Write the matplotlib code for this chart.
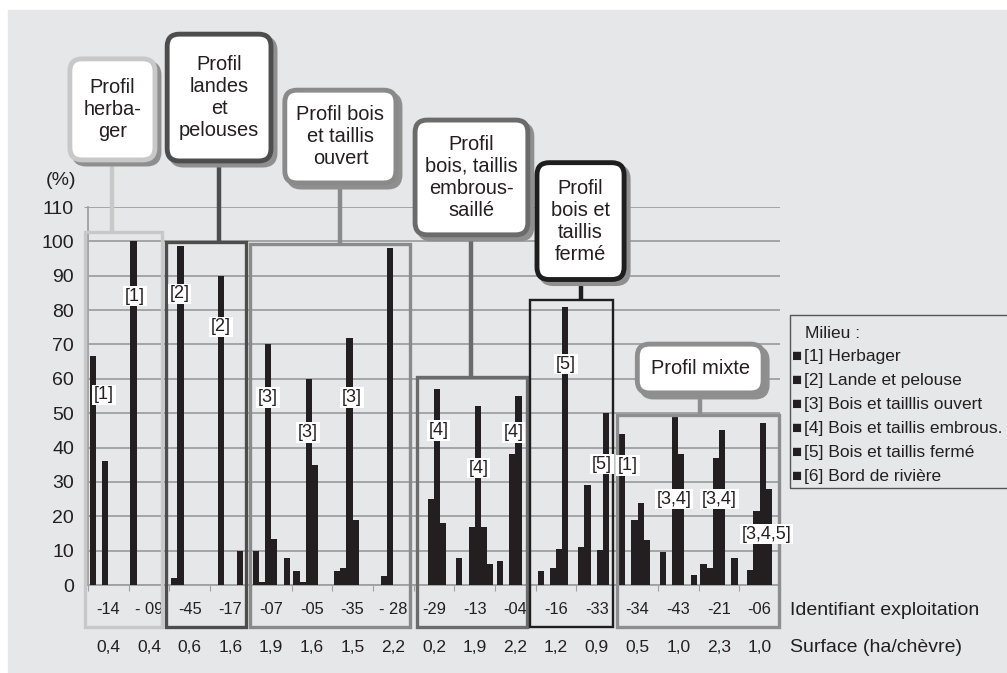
import numpy as np
import matplotlib
matplotlib.use("Agg")
import matplotlib.pyplot as plt
from matplotlib.patches import Rectangle, FancyBboxPatch

plt.rcParams['font.family'] = ['Liberation Sans', 'DejaVu Sans']
TXT = "#231f20"

# ----------------------------
# DONNEES
# ----------------------------

exploitations = ["-14", "- 09", "-45", "-17", "-07", "-05", "-35", "- 28",
                 "-29", "-13", "-04", "-16", "-33", "-34", "-43", "-21", "-06"]
surface = ["0,4", "0,4", "0,6", "1,6", "1,9", "1,6", "1,5", "2,2",
           "0,2", "1,9", "2,2", "1,2", "0,9", "0,5", "1,0", "2,3", "1,0"]

milieux = ["[1] Herbager", "[2] Lande et pelouse", "[3] Bois et tailllis ouvert",
           "[4] Bois et taillis embrous.", "[5] Bois et taillis fermé",
           "[6] Bord de rivière"]

# % de chaque milieu par exploitation
m1 = [66.6, 100, 2, 0, 10, 4, 4, 0, 0, 8, 7, 4, 11, 44, 9.5, 6, 0]
m2 = [0, 0, 98.6, 90, 1, 1, 5, 2.5, 0, 0, 0, 0, 29, 0, 0, 5, 4.5]
m3 = [36, 0, 0, 0, 70, 60, 72, 98, 25, 17, 38, 5, 0, 19, 49, 37, 21.5]
m4 = [0, 0, 0, 0, 13.5, 35, 19, 0, 57, 52, 55, 10.5, 10.3, 24, 38, 45, 47]
m5 = [0, 0, 0, 10, 0, 0, 0, 0, 18, 17, 0, 81, 50, 13, 0, 0, 28]
m6 = [0, 0, 0, 0, 8, 0, 0, 0, 0, 6, 0, 0, 0, 0, 3, 8, 0]
series = [m1, m2, m3, m4, m5, m6]

# profils (nb d'exploitations dans chaque groupe)
profils = ["Profil\nherba-\nger", "Profil\nlandes\net\npelouses",
           "Profil bois\net taillis\nouvert", "Profil\nbois, taillis\nembrous-\nsaillé",
           "Profil\nbois et\ntaillis\nfermé", "Profil mixte"]
n_par_profil = [2, 2, 4, 3, 2, 4]

# etiquettes des barres dominantes
etiquettes = ["[1]", "[1]", "[2]", "[2]", "[3]", "[3]", "[3]", "[4]", "[4]", "[4]",
              "[5]", "[5]", "[1]", "[3,4]", "[3,4]", "[3,4,5]"]
etiq_x = [0.39, 1.155, 2.25, 3.26, 4.42, 5.41, 6.48, 8.61, 9.59, 10.45,
          11.74, 12.62, 13.26, 14.40, 15.51, 16.67]
etiq_y = [55.3, 84.1, 84.7, 75.1, 54.5, 44.4, 54.5, 44.9, 34, 44.4,
          64.3, 35.2, 34.7, 25, 25, 14.8]

# ----------------------------
# MISE EN PAGE (pixels -> fractions)
# ----------------------------

W, H = 1007, 673
fig = plt.figure(figsize=(W / 100, H / 100), dpi=100, facecolor="white")
fig.patches.append(Rectangle((8 / W, 0), 1 - 8 / W, 1 - 10 / H,
                             transform=fig.transFigure, color="#e6e7e8", zorder=-10))

ax = fig.add_axes([88 / W, (H - 585) / H, 692 / W, 378 / H])
ax.set_facecolor("none")
ax.set_xlim(0, 17)
ax.set_ylim(0, 110)

# ----------------------------
# BARRES
# ----------------------------

n = len(exploitations)
x = np.arange(n)
largeur = 0.152
marge = (1 - 6 * largeur) / 2
for k, s in enumerate(series):
    ax.bar(x + marge + (k + 0.5) * largeur, s, width=largeur,
           color=TXT, linewidth=0, zorder=3)

for t, xx, yy in zip(etiquettes, etiq_x, etiq_y):
    ax.text(xx, yy, t, ha="center", va="center", fontsize=13, color=TXT, zorder=5,
            bbox=dict(boxstyle="square,pad=0.1", fc="white", ec="none"))

# ----------------------------
# AXES
# ----------------------------

gris = "#a0a0a0"
ax.set_yticks(np.arange(0, 111, 10))
ax.yaxis.grid(True, color=gris, lw=1.3)
ax.set_axisbelow(True)
for s in ["top", "right"]:
    ax.spines[s].set_visible(False)
for s in ["left", "bottom"]:
    ax.spines[s].set_color(gris)
    ax.spines[s].set_linewidth(1.3)
ax.tick_params(axis="y", length=3, color=gris, pad=7, labelsize=14, labelcolor=TXT)

ax.set_xticks(np.arange(0, 18))
ax.set_xticklabels([])
ax.set_xticks(x + 0.5, minor=True)
ax.set_xticklabels(exploitations, minor=True)
ax.tick_params(axis="x", which="major", length=4, color=gris)
ax.tick_params(axis="x", which="minor", length=0, pad=12.5, labelsize=11.8, labelcolor=TXT)

ax.text(-0.3, 117.7, "(%)", ha="right", va="center", fontsize=14, color=TXT, clip_on=False)

for i, s in enumerate(surface):
    ax.text(i + 0.5, -18.3, s, ha="center", va="center", fontsize=12.5,
            color=TXT, clip_on=False)
ax.text(17.25, -7.3, "Identifiant exploitation", ha="left", va="center",
        fontsize=14, color=TXT, clip_on=False)
ax.text(17.25, -18.3, "Surface (ha/chèvre)", ha="left", va="center",
        fontsize=14, color=TXT, clip_on=False)

# ----------------------------
# CADRES ET BULLES DES PROFILS
# ----------------------------

couleurs = ["#c8c8c8", "#4d4d4d", "#8a8a8a", "#6b6b6b", "#1e1e1e", "#8e8e8e"]
cadre_x = [(-0.07, 1.83), (1.92, 3.87), (3.98, 7.91), (8.08, 10.79),
           (10.86, 12.90), (13.0, 16.98)]
cadre_haut = [102.7, 99.8, 99.2, 60.6, 82.9, 49.5]
cadre_lw = [2.4, 2.4, 2.4, 2.4, 1.7, 2.4]
bulle = [(0.60, 2.19, 123.1, 153.7), (3.22, 2.65, 122.8, 160.9),
         (6.20, 2.83, 116.4, 144.6), (9.42, 2.87, 101.3, 135.9),
         (12.10, 2.24, 88.3, 123.5), (15.04, 3.19, 55.3, 70.7)]
bas = -12.3

asp = (692 / 17) / (378 / 110)
for p, c, (x0, x1), top, lw, (cx, bw, y0, y1) in zip(
        profils, couleurs, cadre_x, cadre_haut, cadre_lw, bulle):
    ax.add_patch(Rectangle((x0, bas), x1 - x0, top - bas, fill=False, ec=c,
                           lw=lw, zorder=4, clip_on=False))
    ax.plot([cx, cx], [top, y0], color=c, lw=3.2, zorder=4, clip_on=False,
            solid_capstyle="butt")
    ins_x, ins_y = 0.05, 0.6
    bx, by = cx - bw / 2 + ins_x, y0 + ins_y
    bww, bh = bw - 2 * ins_x, (y1 - y0) - 2 * ins_y
    ombre = FancyBboxPatch((bx + 0.1, by - 1.2), bww, bh,
                           boxstyle="round,pad=0,rounding_size=0.3",
                           mutation_aspect=asp, fc="#8f8f8f", ec="#8f8f8f",
                           lw=3.5, zorder=5, clip_on=False)
    ax.add_patch(ombre)
    ax.add_patch(FancyBboxPatch((bx, by), bww, bh,
                                boxstyle="round,pad=0,rounding_size=0.3",
                                mutation_aspect=asp, fc="white", ec=c,
                                lw=3.5, zorder=6, clip_on=False))
    ax.text(cx, (y0 + y1) / 2, p, ha="center", va="center", fontsize=14.4,
            color=TXT, zorder=7, linespacing=1.2, clip_on=False)

# ----------------------------
# LEGENDE
# ----------------------------

fig.patches.append(Rectangle((790 / W, (H - 488) / H), 0.3, 173 / H, fill=False,
                             ec="#555555", lw=1, transform=fig.transFigure))
fig.text(805 / W, (H - 333) / H, "Milieu :", ha="left", va="center",
         fontsize=12.5, color=TXT)
for k, m in enumerate(milieux):
    yk = (H - (356 + k * 24)) / H
    fig.text(792 / W, yk, "■", ha="left", va="center", fontsize=12, color=TXT)
    fig.text(804 / W, yk, m, ha="left", va="center", fontsize=12.5, color=TXT)

plt.savefig("out.png", dpi=100, facecolor="white")
